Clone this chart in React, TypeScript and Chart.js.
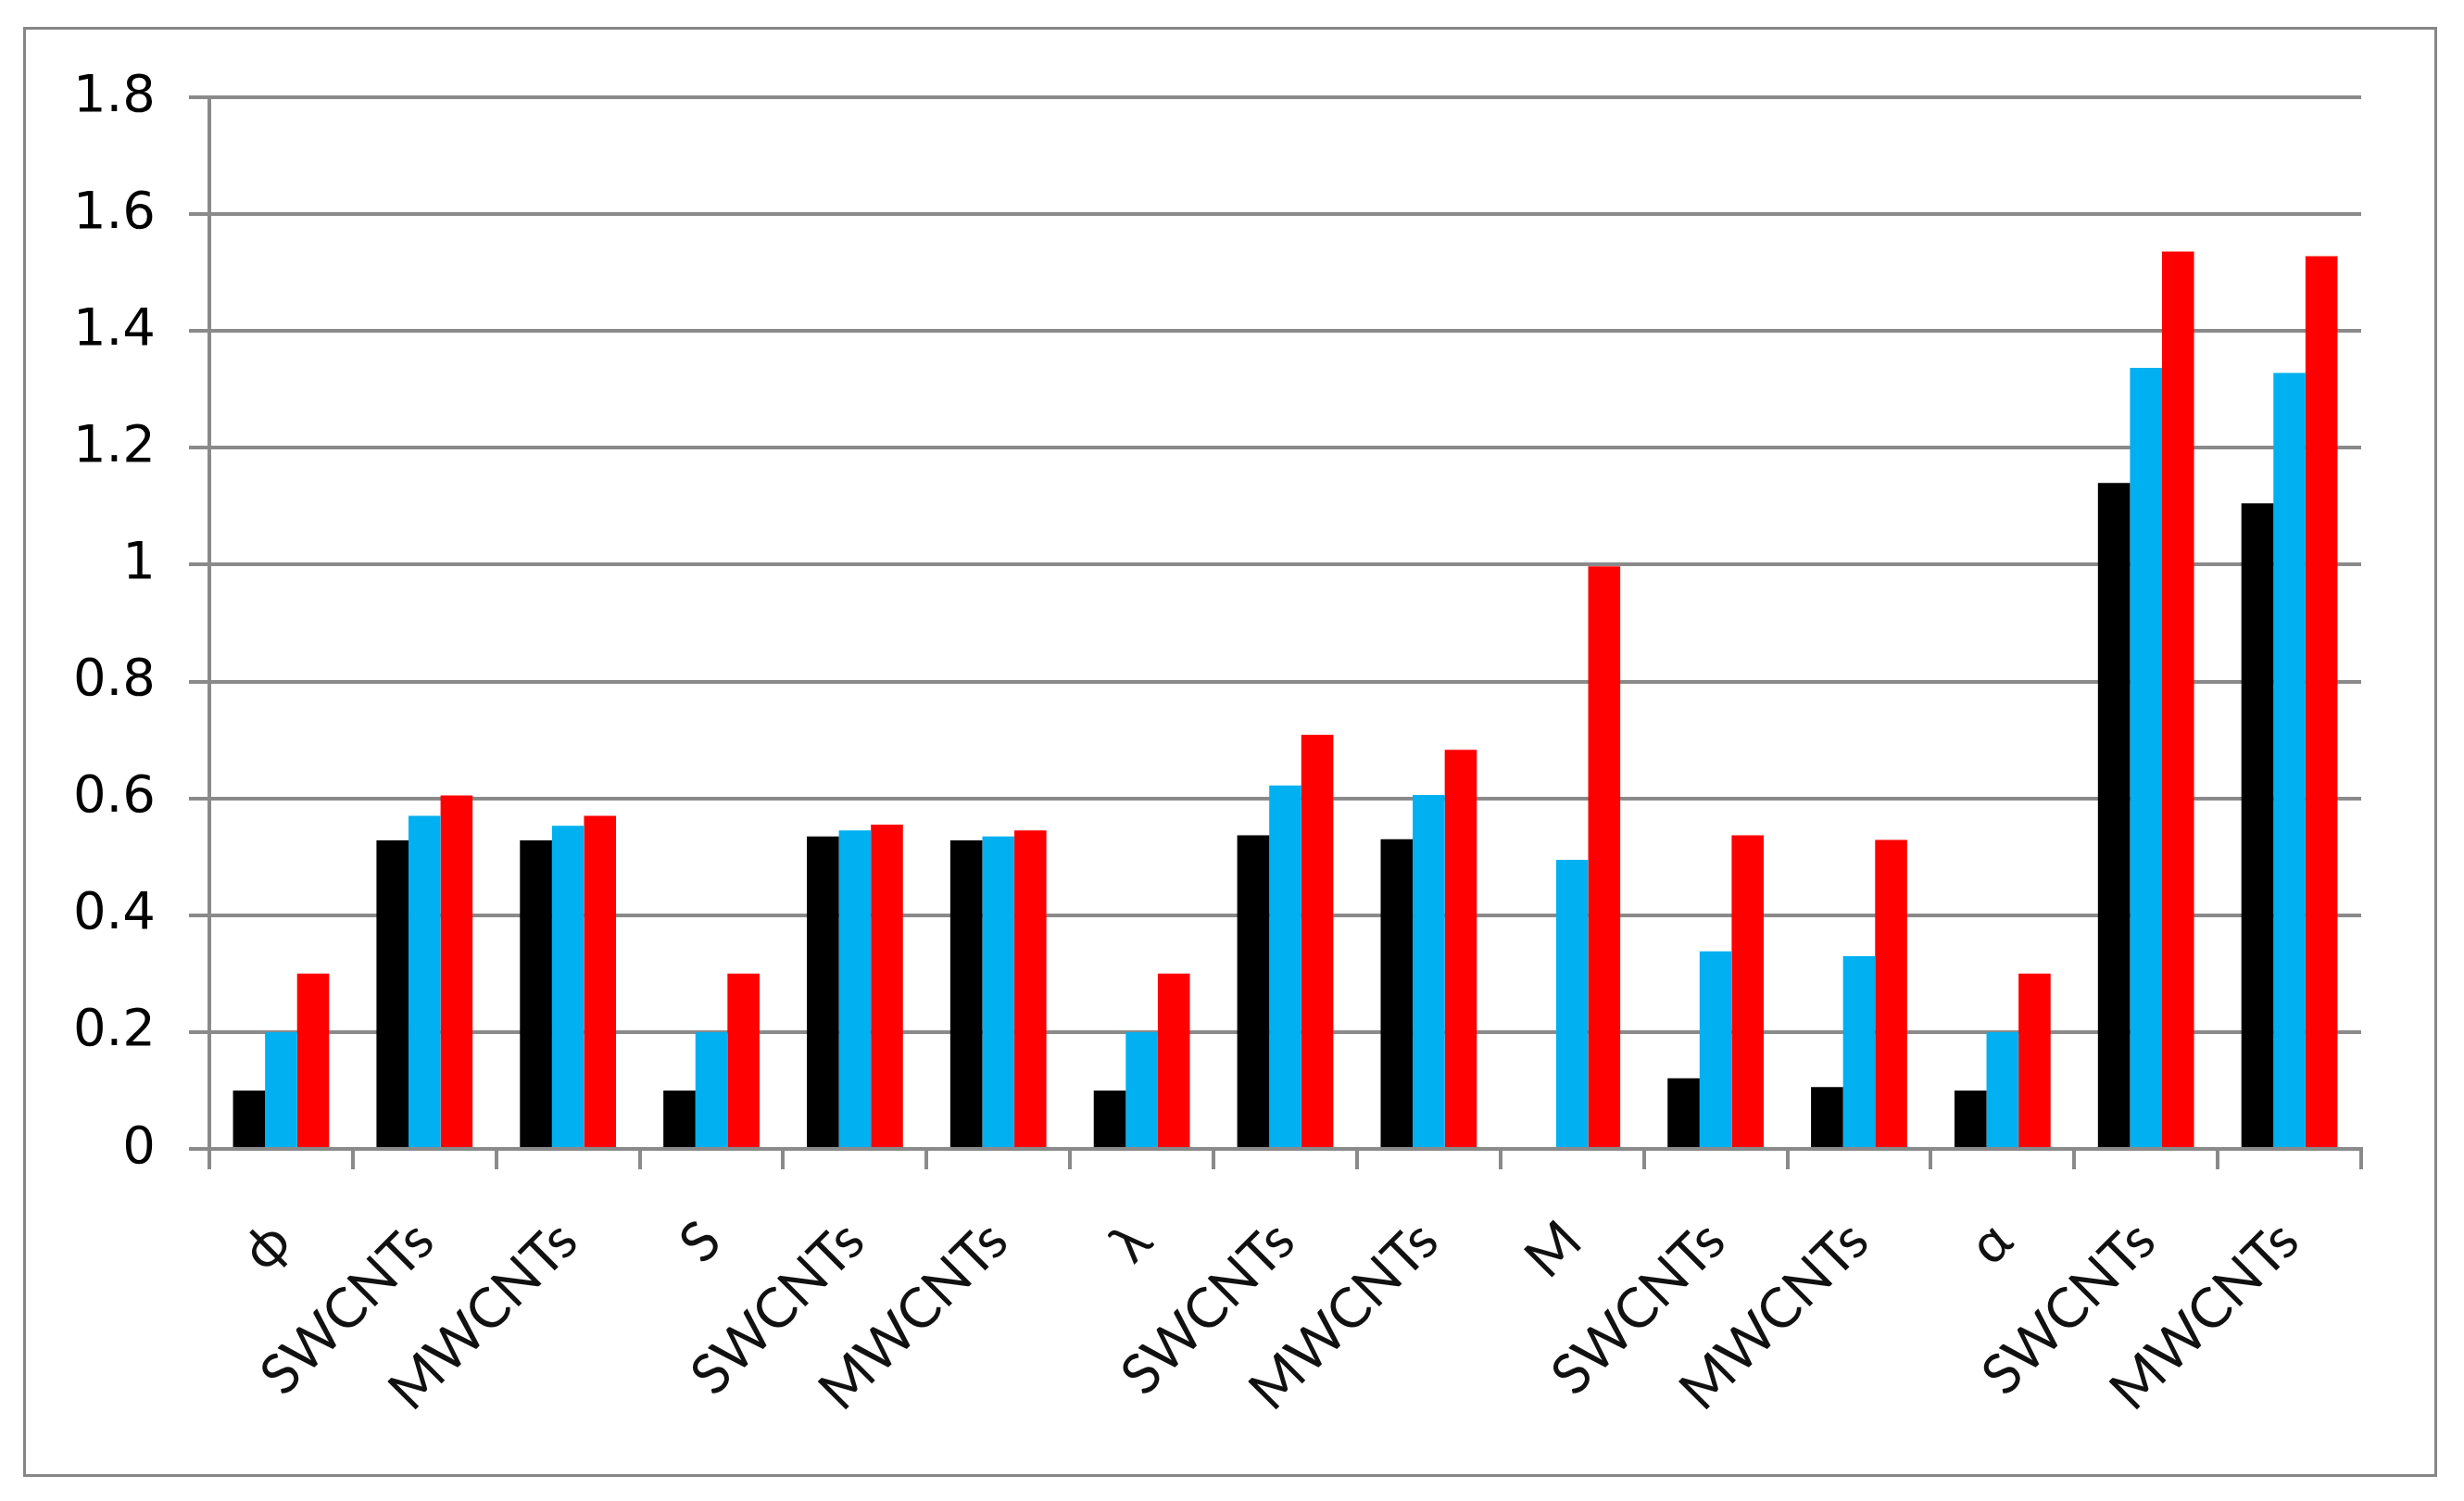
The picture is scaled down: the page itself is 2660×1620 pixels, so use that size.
import React, { useEffect, useRef } from "react";
import { Chart, registerables } from "chart.js";

Chart.register(...registerables);

const categories = ["ϕ", "SWCNTs", "MWCNTs", "S", "SWCNTs", "MWCNTs", "λ", "SWCNTs", "MWCNTs", "M", "SWCNTs", "MWCNTs", "α", "SWCNTs", "MWCNTs"];
const seriesBlack = [0.1, 0.528, 0.528, 0.1, 0.535, 0.528, 0.1, 0.537, 0.53, 0, 0.121, 0.106, 0.1, 1.14, 1.105];
const seriesBlue = [0.2, 0.57, 0.553, 0.2, 0.545, 0.535, 0.2, 0.622, 0.606, 0.495, 0.338, 0.33, 0.2, 1.337, 1.328];
const seriesRed = [0.3, 0.605, 0.57, 0.3, 0.555, 0.545, 0.3, 0.709, 0.683, 0.997, 0.537, 0.529, 0.3, 1.536, 1.528];
const yMin = 0;
const yMax = 1.8;
const yStep = 0.2;

const W = 2660;
const H = 1620;
const GRID = "#8a8a8a";

export default function App() {
  const ref = useRef<HTMLCanvasElement | null>(null);
  useEffect(() => {
    if (!ref.current) return;
    const chart = new Chart(ref.current, {
      type: "bar",
      data: {
        labels: categories,
        datasets: [
          { label: "a", data: seriesBlack, backgroundColor: "#000000", borderWidth: 0 },
          { label: "b", data: seriesBlue, backgroundColor: "#00B0F0", borderWidth: 0 },
          { label: "c", data: seriesRed, backgroundColor: "#FF0000", borderWidth: 0 },
        ],
      },
      options: {
        responsive: false,
        animation: false,
        devicePixelRatio: 1,
        layout: { padding: { top: 105, right: 111, left: 0, bottom: 0 } },
        datasets: { bar: { categoryPercentage: 0.67, barPercentage: 1.0 } },
        plugins: { legend: { display: false }, tooltip: { enabled: false }, title: { display: false } },
        scales: {
          x: {
            grid: { display: true, drawOnChartArea: false, drawTicks: true, tickLength: 22, color: GRID, lineWidth: 4, offset: true },
            border: { display: true, color: GRID, width: 4 },
            ticks: {
              minRotation: 45,
              maxRotation: 45,
              autoSkip: false,
              color: "#111",
              padding: 42,
              font: { family: "Lato", size: 60 },
            },
            afterFit: (s: any) => {
              s.height = 380;
            },
          },
          y: {
            min: yMin,
            max: yMax,
            ticks: {
              stepSize: yStep,
              color: "#000",
              padding: 36,
              font: { family: "DejaVu Sans", size: 56 },
              callback: (v: any) => String(Number(Number(v).toFixed(1))),
            },
            grid: { color: GRID, lineWidth: 4, tickLength: 22, drawTicks: true },
            border: { display: true, color: GRID, width: 4 },
            afterFit: (s: any) => {
              s.width = 226;
            },
          },
        },
      },
    });
    return () => chart.destroy();
  }, []);
  return (
    <div style={{ position: "fixed", left: 0, top: 0, width: W, height: H, background: "#fff", overflow: "hidden" }}>
      <canvas ref={ref} width={W} height={H} style={{ position: "absolute", left: 0, top: 0, width: W, height: H }} />
      <div
        style={{
          position: "absolute",
          left: 25,
          top: 29,
          width: 2606,
          height: 1565,
          border: "3px solid #868686",
          boxSizing: "border-box",
          pointerEvents: "none",
        }}
      />
    </div>
  );
}
